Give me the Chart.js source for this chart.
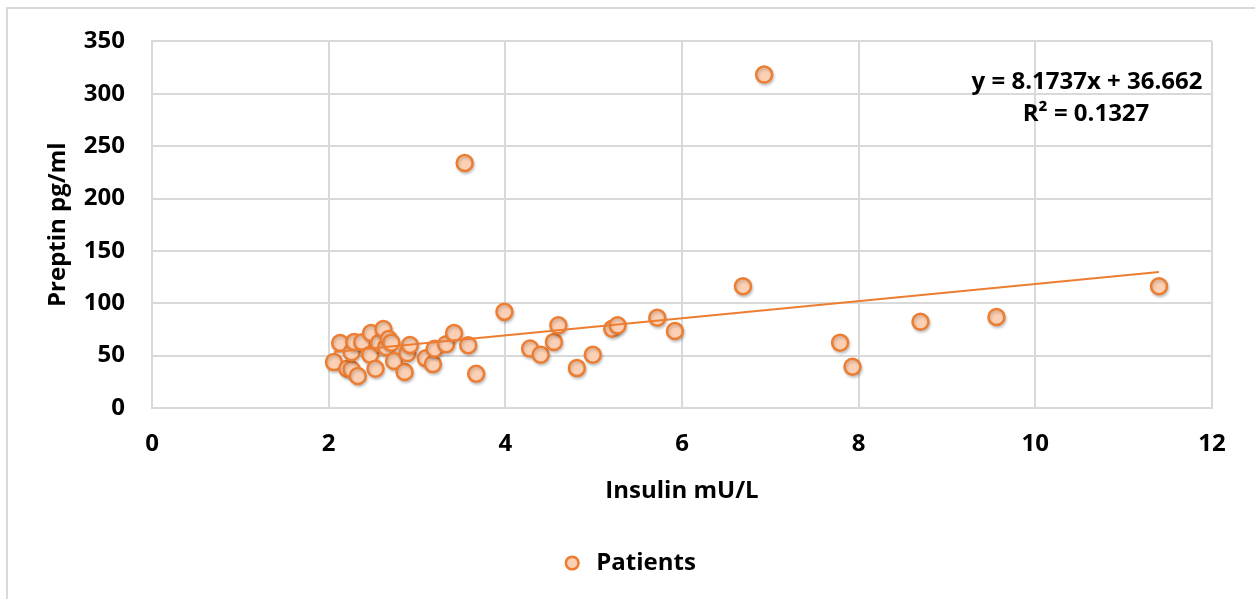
<!DOCTYPE html>
<html>
<head>
<meta charset="utf-8">
<script src="https://cdn.jsdelivr.net/npm/chart.js@4.4.1/dist/chart.umd.min.js"></script>
<style>
  html, body { margin: 0; padding: 0; background: #fff; }
  #wrap { position: relative; width: 1255px; height: 599px; overflow: hidden; }
  #frame { position: absolute; left: 6px; top: 7px; right: -10px; bottom: -10px; border-left: 2px solid #d9d9d9; border-top: 2px solid #d9d9d9; }
  #chart { position: absolute; left: 0; top: 0; }
</style>
</head>
<body>
<div id="wrap">
  <div id="frame"></div>
  <canvas id="chart" width="1255" height="599"></canvas>
</div>
<script>
// Patients: insulin (mU/L) vs preptin (pg/ml)
const insulin = [2.06, 2.13, 2.21, 2.26, 2.26, 2.29, 2.33, 2.38, 2.47, 2.48,
                 2.53, 2.57, 2.62, 2.65, 2.68, 2.71, 2.74, 2.86, 2.89, 2.92,
                 3.10, 3.18, 3.20, 3.33, 3.42, 3.54, 3.58, 3.67, 3.99, 4.28,
                 4.40, 4.55, 4.60, 4.81, 4.99, 5.21, 5.27, 5.72, 5.92, 6.69,
                 6.93, 7.79, 7.93, 8.70, 9.56, 11.40];
const preptin = [43.8, 62.1, 37.5, 36.8, 53.3, 63.1, 30.5, 62.8, 50.8, 71.6,
                 37.5, 62.1, 75.4, 58.1, 65.9, 62.4, 44.8, 34.3, 52.4, 60.2,
                 47.4, 41.9, 56.5, 60.9, 71.6, 233.9, 60.0, 32.7, 91.8, 56.7,
                 50.8, 63.1, 78.9, 38.1, 50.8, 75.7, 78.9, 86.1, 73.5, 116.2,
                 318.3, 62.4, 39.4, 82.4, 86.8, 116.2];

// linear trendline ends (as drawn in the picture)
const trendX = [2.06, 11.40];
const trendY = [53.5, 129.8];
const trendText = ['y = 8.1737x + 36.662', 'R\u00B2 = 0.1327'];

const xTicks = [0, 2, 4, 6, 8, 10, 12];
const yTicks = [0, 50, 100, 150, 200, 250, 300, 350];

const ORANGE = '#ed7d31';
const FILL = '#fcd0b4';
const GRID = '#d9d9d9';
const FONT = "'Open Sans', 'Liberation Sans', sans-serif";
const FSIZE = 24;

const shadowPlugin = {
    id: 'shadow',
    beforeDatasetDraw(chart, args) {
        if (args.index !== 1) return;
        const ctx = chart.ctx;
        ctx.save();
        ctx.shadowColor = 'rgba(0,0,0,0.2)';
        ctx.shadowBlur = 3;
        ctx.shadowOffsetX = 1;
        ctx.shadowOffsetY = 2;
    },
    afterDatasetDraw(chart, args) {
        if (args.index !== 1) return;
        chart.ctx.restore();
    }
};

// nudge the legend to the right, like the original
const legendShift = {
    id: 'legendShift',
    afterLayout(chart) {
        chart.legend.left += 22;
        chart.legend.right += 22;
    }
};

const equationPlugin = {
    id: 'equation',
    afterDraw(chart) {
        const ctx = chart.ctx;
        ctx.save();
        ctx.font = 'bold ' + FSIZE + 'px ' + FONT;
        ctx.fillStyle = '#000';
        ctx.textAlign = 'center';
        ctx.textBaseline = 'middle';
        ctx.fillText(trendText[0], 1087, 82);
        ctx.fillText(trendText[1], 1086, 114);
        ctx.restore();
    }
};

const ctx = document.getElementById('chart').getContext('2d');
new Chart(ctx, {
    type: 'scatter',
    data: {
        datasets: [{
            label: 'Linear (Patients)',
            data: trendX.map((x, i) => ({ x: x, y: trendY[i] })),
            showLine: true,
            borderColor: ORANGE,
            borderWidth: 2,
            pointRadius: 0,
            fill: false
        }, {
            label: 'Patients',
            data: insulin.map((x, i) => ({ x: x, y: preptin[i] })),
            backgroundColor: FILL,
            borderColor: ORANGE,
            pointRadius: 8,
            pointBorderWidth: 2.5,
            borderWidth: 2.5
        }]
    },
    options: {
        responsive: false,
        animation: false,
        events: [],
        layout: { padding: { left: 0, top: 40, right: 43, bottom: 14 } },
        plugins: {
            tooltip: { enabled: false },
            legend: {
                position: 'bottom',
                labels: {
                    filter: item => item.text === 'Patients',
                    usePointStyle: true,
                    pointStyle: 'circle',
                    boxHeight: 9,
                    padding: 10,
                    color: '#000',
                    font: { family: FONT, size: FSIZE, weight: 'bold' }
                }
            }
        },
        scales: {
            x: {
                type: 'linear',
                min: 0,
                max: 12,
                afterBuildTicks: s => { s.ticks = xTicks.map(v => ({ value: v })); },
                afterFit: s => { s.height = 133; },
                grid: { color: GRID, lineWidth: 2, drawTicks: false },
                border: { color: GRID, width: 2 },
                ticks: { padding: 22, color: '#000', font: { family: FONT, size: FSIZE, weight: 'bold' } },
                title: {
                    display: true,
                    text: 'Insulin mU/L',
                    color: '#000',
                    font: { family: FONT, size: FSIZE, weight: 'bold' },
                    padding: { top: 0, bottom: 35 }
                }
            },
            y: {
                type: 'linear',
                min: 0,
                max: 350,
                afterBuildTicks: s => { s.ticks = yTicks.map(v => ({ value: v })); },
                afterFit: s => { s.width = 152; },
                grid: { color: GRID, lineWidth: 2, drawTicks: false },
                border: { color: GRID, width: 2 },
                ticks: { padding: 27, color: '#000', font: { family: FONT, size: FSIZE, weight: 'bold' } },
                title: {
                    display: true,
                    text: 'Preptin pg/ml',
                    color: '#000',
                    font: { family: FONT, size: FSIZE, weight: 'bold' },
                    padding: { top: 44, bottom: 0 }
                }
            }
        }
    },
    plugins: [shadowPlugin, legendShift, equationPlugin]
});
</script>
</body>
</html>
